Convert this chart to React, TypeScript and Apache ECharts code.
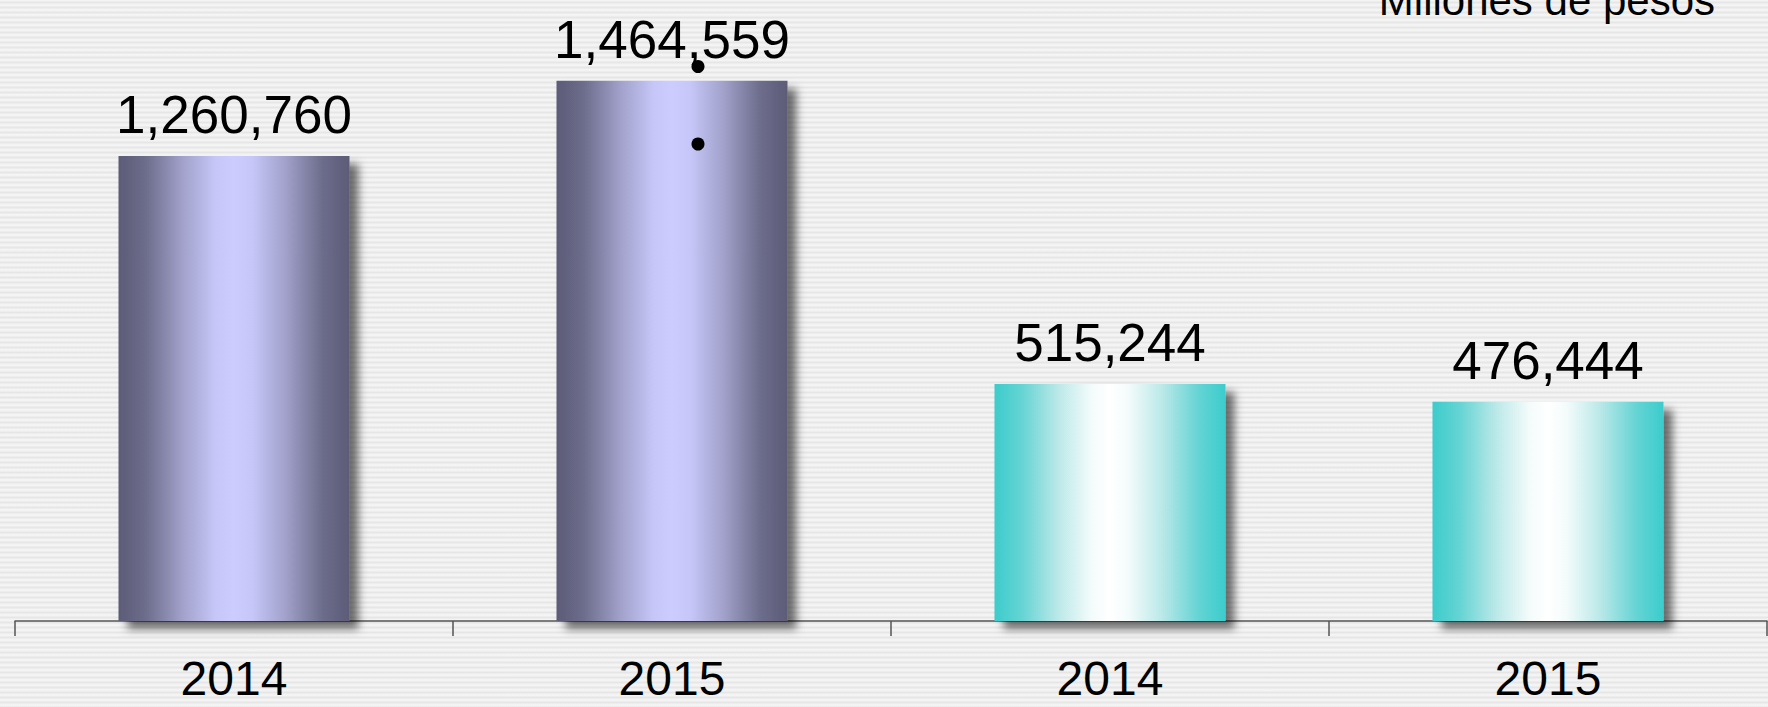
import React, { useEffect, useRef } from "react";
import * as echarts from "echarts";

const categories = ["2014", "2015", "2014", "2015"];
const groupAValues = [1260760, 1464559, "-", "-"];
const groupBValues = ["-", "-", 515244, 476444];
const unitLabel = "Millones de pesos";

const FONT = "'Liberation Sans', Arial, Helvetica, sans-serif";

export default function App() {
  const ref = useRef<HTMLDivElement>(null);

  useEffect(() => {
    if (!ref.current) return;
    const chart = echarts.init(ref.current, null, { renderer: "svg" });

    const purple = new echarts.graphic.LinearGradient(0, 0, 1, 0, [
      { offset: 0, color: "#5c5c78" },
      { offset: 0.12, color: "#6d6d8c" },
      { offset: 0.28, color: "#a2a2cc" },
      { offset: 0.42, color: "#c6c6f8" },
      { offset: 0.5, color: "#ccccff" },
      { offset: 0.58, color: "#c6c6f8" },
      { offset: 0.72, color: "#a2a2cc" },
      { offset: 0.88, color: "#6d6d8c" },
      { offset: 1, color: "#5c5c78" },
    ]);
    const teal = new echarts.graphic.LinearGradient(0, 0, 1, 0, [
      { offset: 0, color: "#3ccccc" },
      { offset: 0.12, color: "#66d4d4" },
      { offset: 0.28, color: "#bde9e9" },
      { offset: 0.42, color: "#f4fbfb" },
      { offset: 0.5, color: "#ffffff" },
      { offset: 0.58, color: "#f4fbfb" },
      { offset: 0.72, color: "#bde9e9" },
      { offset: 0.88, color: "#66d4d4" },
      { offset: 1, color: "#3ccccc" },
    ]);

    const label = {
      show: true,
      position: "top",
      distance: 15,
      color: "#000",
      fontSize: 53,
      fontFamily: FONT,
      formatter: (p: any) => Number(p.value).toLocaleString("en-US"),
    };
    const shadow = {
      shadowBlur: 8,
      shadowColor: "rgba(0,0,0,0.55)",
      shadowOffsetX: 9,
      shadowOffsetY: 8,
    };

    chart.setOption({
      animation: false,
      backgroundColor: "transparent",
      grid: { left: 15, right: 1, top: 40, bottom: 86, containLabel: false },
      xAxis: {
        type: "category",
        data: categories,
        boundaryGap: true,
        axisLine: { show: true, lineStyle: { color: "#555", width: 1.5 } },
        axisTick: { show: true, length: 15, alignWithLabel: false, lineStyle: { color: "#555", width: 1.5 } },
        axisLabel: { color: "#000", fontSize: 48, fontFamily: FONT, margin: 33 },
        splitLine: { show: false },
      },
      yAxis: [
        { type: "value", min: 0, max: 1575304, show: false, splitLine: { show: false } },
        { type: "value", min: 0, max: 1263085, show: false, splitLine: { show: false } },
      ],
      series: [
        {
          type: "bar",
          yAxisIndex: 0,
          data: groupAValues,
          barWidth: 231,
          barGap: "-100%",
          itemStyle: { color: purple, ...shadow },
          label,
        },
        {
          type: "bar",
          yAxisIndex: 1,
          data: groupBValues,
          barWidth: 231,
          barGap: "-100%",
          itemStyle: { color: teal, ...shadow },
          label,
        },
      ],
      graphic: [
        {
          type: "text",
          z: 100,
          style: {
            text: unitLabel,
            x: 1715,
            y: 0,
            align: "right",
            verticalAlign: "middle",
            fill: "#000",
            font: `42px ${FONT}`,
          },
        },
        { type: "circle", z: 100, shape: { cx: 698, cy: 66.5, r: 6.5 }, style: { fill: "#000" } },
        { type: "circle", z: 100, shape: { cx: 698, cy: 144, r: 6.5 }, style: { fill: "#000" } },
      ],
    });

    return () => chart.dispose();
  }, []);

  return (
    <div
      ref={ref}
      style={{
        position: "absolute",
        left: 0,
        top: 0,
        width: 1768,
        height: 707,
        background:
          "repeating-linear-gradient(to bottom, #f7f7f7 0px, #e6e6e6 2.5px, #f7f7f7 5px)",
      }}
    />
  );
}
